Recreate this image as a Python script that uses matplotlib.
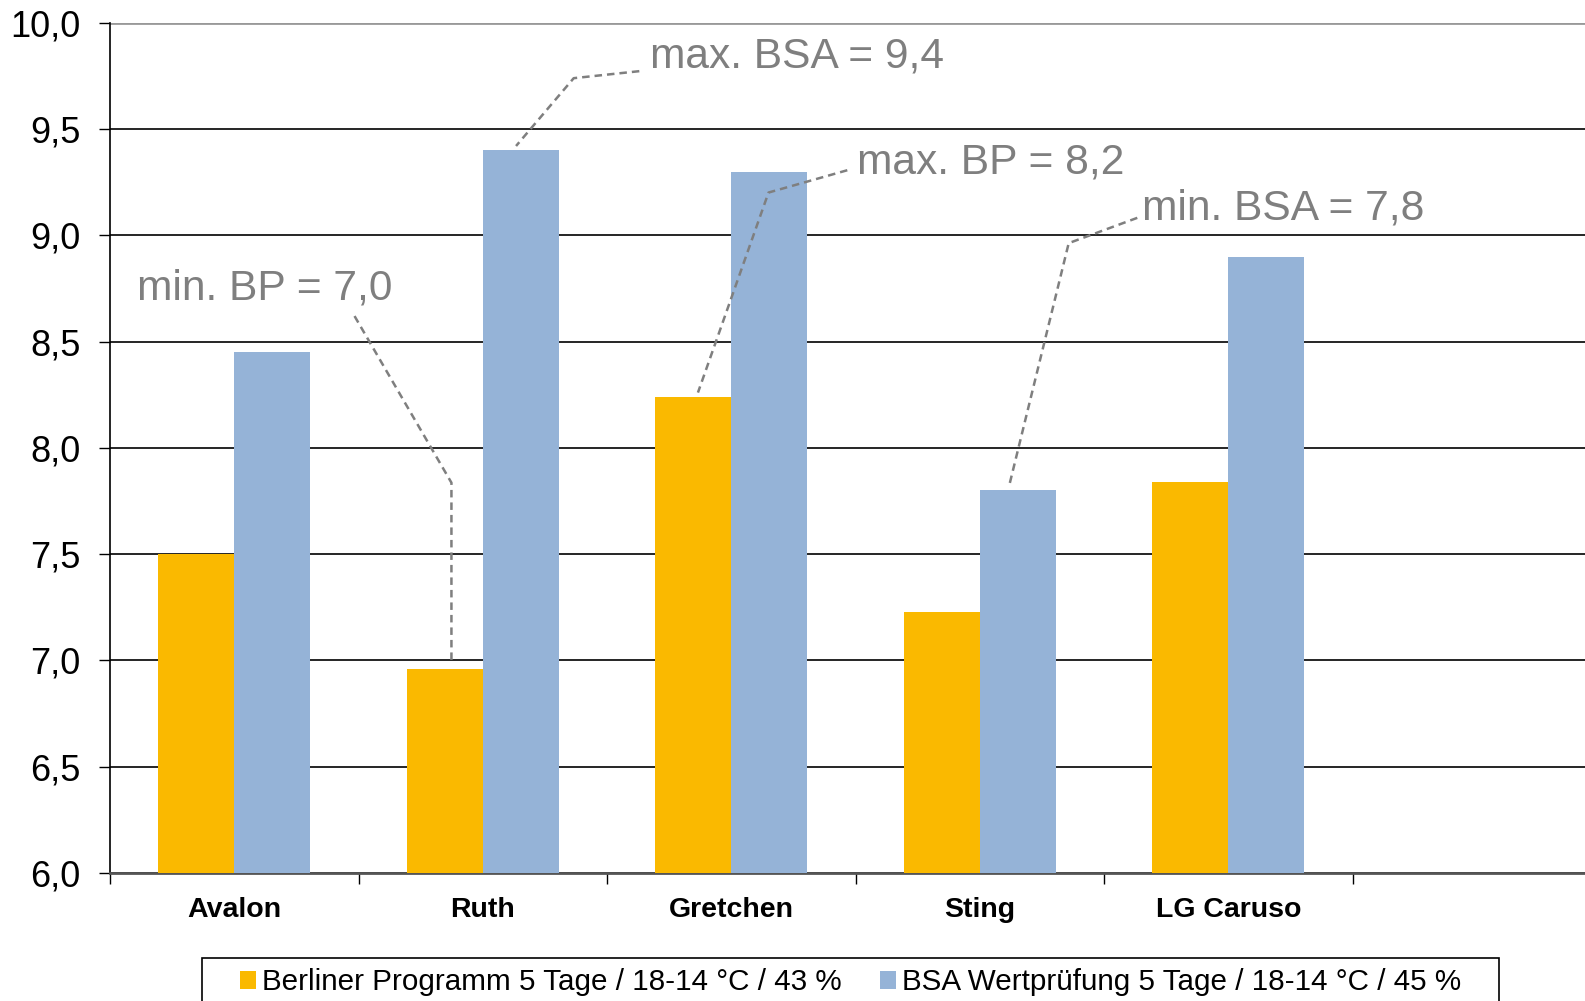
import matplotlib
matplotlib.use("Agg")
import matplotlib.pyplot as plt
from matplotlib.patches import Rectangle
import numpy as np

plt.rcParams['font.family'] = ['Liberation Sans', 'DejaVu Sans']

sorten = ["Avalon", "Ruth", "Gretchen", "Sting", "LG Caruso"]
berliner = [7.5, 6.96, 8.24, 7.23, 7.84]
bsa = [8.45, 9.4, 9.3, 7.8, 8.9]
serien = ["Berliner Programm 5 Tage / 18-14 °C / 43 %",
          "BSA Wertprüfung 5 Tage / 18-14 °C / 45 %"]
yticks = [6.0, 6.5, 7.0, 7.5, 8.0, 8.5, 9.0, 9.5, 10.0]

# annotations: text, text position, knee points, end x, target bar (series, index)
notizen = [
    ("min. BP = 7,0", (-0.39, 8.75), [(0.484, 8.62), (0.874, 7.836)], 0.874, (0, 1)),
    ("max. BSA = 9,4", (1.675, 9.843), [(1.630, 9.772), (1.366, 9.739)], 1.134, (1, 1)),
    ("max. BP = 8,2", (2.508, 9.344), [(2.467, 9.306), (2.150, 9.201)], 1.866, (0, 2)),
    ("min. BSA = 7,8", (3.654, 9.125), [(3.634, 9.082), (3.358, 8.963)], 3.118, (1, 3)),
]

gelb = "#FAB900"
blau = "#95B3D7"
grau = "#7F7F7F"

fig = plt.figure(figsize=(15.85, 10.01), dpi=100)
ax = fig.add_axes([110/1585, 1 - 873/1001, 1491/1585, (873 - 22.7)/1001])

x = np.arange(len(sorten))
w = 0.305
ax.bar(x - w/2, np.array(berliner) - 6, w, bottom=6, color=gelb, label=serien[0], zorder=3)
ax.bar(x + w/2, np.array(bsa) - 6, w, bottom=6, color=blau, label=serien[1], zorder=3)

ax.set_xlim(-0.5, 5.5)
ax.set_ylim(6, 10)
ax.set_yticks(yticks)
ax.set_yticklabels([f"{v:.1f}".replace(".", ",") for v in yticks], fontsize=26)
ax.set_xticks(x)
ax.set_xticklabels(sorten, fontsize=20.5, fontweight="bold")
ax.set_xticks(np.arange(-0.5, 6.0, 1.0), minor=True)
ax.tick_params(axis="x", which="major", length=0, pad=17)
ax.tick_params(axis="x", which="minor", length=8, direction="out", width=1)
ax.tick_params(axis="y", length=8, width=1, pad=13)

ax.grid(axis="y", color="black", linewidth=1.2, zorder=1)
for s in ["top", "right"]:
    ax.spines[s].set_visible(False)
ax.spines["left"].set_linewidth(1.2)
ax.spines["bottom"].set_color("#555555")
ax.spines["bottom"].set_linewidth(2)
ax.axhline(10, color="#999999", linewidth=2, zorder=2)

werte = [berliner, bsa]
for text, pos, knicke, end_x, (s, i) in notizen:
    px = [knicke[0][0], knicke[1][0], end_x]
    py = [knicke[0][1], knicke[1][1], werte[s][i] + 0.02]
    ax.plot(px, py, color=grau, linestyle=(0, (3, 2)), linewidth=1.8, zorder=4)
    ax.text(pos[0], pos[1], text, color=grau, fontsize=30.6, va="center", ha="left", zorder=5)

leg = fig.legend(loc="upper center", bbox_to_anchor=(0.5366, 0.043), ncol=2,
                 fontsize=21.3, frameon=False,
                 handlelength=0.55, handleheight=0.55, handletextpad=0.2,
                 columnspacing=1.3, borderpad=0.35, borderaxespad=0)

# legend frame, wider than the entries like in the original
fig.patches.append(Rectangle((202/1585, -0.05), (1499 - 202)/1585, 0.043 + 0.05,
                             transform=fig.transFigure, fill=False,
                             edgecolor="black", linewidth=1.2))

fig.savefig("out.png", dpi=100)
